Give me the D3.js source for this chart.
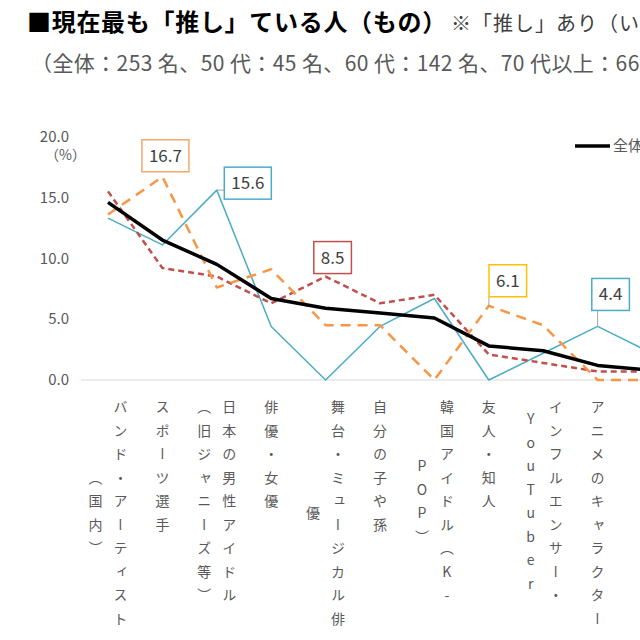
<!DOCTYPE html>
<html>
<head>
<meta charset="utf-8">
<script src="https://cdn.jsdelivr.net/npm/d3@7"></script>
<style>
  body { margin: 0; background: #fff; }
  svg { display: block; font-family: "Noto Sans CJK JP", "Noto Sans", sans-serif; }
</style>
</head>
<body>
<div id="chart"></div>
<script>
// Data
var categories = [
  "バンド・アーティスト（国内）", "スポーツ選手", "日本の男性アイドル（旧ジャニーズ等）",
  "俳優・女優", "舞台・ミュージカル俳優", "自分の子や孫", "韓国アイドル（K-POP）",
  "友人・知人", "インフルエンサー・YouTuber", "アニメのキャラクター", "その他"
];
// how each category label wraps into vertical columns (right to left)
var labelColumns = [
  ["バンド・アーティスト", "（国内）"],
  ["スポーツ選手"],
  ["日本の男性アイドル", "（旧ジャニーズ等）"],
  ["俳優・女優"],
  ["舞台・ミュージカル俳", "優"],
  ["自分の子や孫"],
  ["韓国アイドル（K-", "POP）"],
  ["友人・知人"],
  ["インフルエンサー・", "YouTuber"],
  ["アニメのキャラクター"],
  ["その他"]
];
var seriesNames = ["全体", "50代", "60代", "70代以上"];
var valuesAll = [14.6, 11.5, 9.5, 6.7, 5.9, 5.5, 5.1, 2.8, 2.4, 1.2, 0.8];
var values50 = [13.3, 11.1, 15.6, 4.4, 0.0, 4.4, 6.7, 0.0, 2.2, 4.4, 2.2];
var values60 = [15.5, 9.2, 8.5, 6.3, 8.5, 6.3, 7.0, 2.1, 1.4, 0.7, 0.7];
var values70 = [13.6, 16.7, 7.6, 9.1, 4.5, 4.5, 0.0, 6.1, 4.5, 0.0, 0.0];
var yTicks = [0, 5, 10, 15, 20];
// highlighted values: series index, category index
var callouts = [
  { s: 3, c: 1 },
  { s: 1, c: 2 },
  { s: 2, c: 4 },
  { s: 3, c: 7 },
  { s: 1, c: 9 }
];

var seriesValues = [valuesAll, values50, values60, values70];

var svgWidth = 640;
var svgHeight = 640;

var svg = d3.select("#chart")
  .append("svg")
  .attr("width", svgWidth)
  .attr("height", svgHeight);

// Titles
var title = svg.append("text")
  .attr("x", 27)
  .attr("y", 31)
  .attr("fill", "#000");
title.append("tspan")
  .attr("font-size", 24)
  .attr("font-weight", "bold")
  .style("letter-spacing", "0.7px")
  .text("■現在最も「推し」ている人（もの）");
title.append("tspan")
  .attr("dx", 4)
  .attr("font-size", 20)
  .attr("fill", "#404040")
  .style("letter-spacing", "1px")
  .text("※「推し」あり（いる）");

svg.append("text")
  .attr("x", 31)
  .attr("y", 71)
  .attr("font-size", 21)
  .attr("fill", "#595959")
  .style("letter-spacing", "0.4px")
  .text("（全体：253 名、50 代：45 名、60 代：142 名、70 代以上：66 名）");

// Scales
var step = 54.4;
var x0 = 108;
var xScale = d3.scalePoint()
  .domain(categories)
  .range([x0, x0 + step * (categories.length - 1)]);

var yScale = d3.scaleLinear()
  .domain([0, 20])
  .range([380, 136.6]);

// Y axis labels
var yAxis = d3.axisLeft(yScale)
  .tickValues(yTicks)
  .tickFormat(d3.format(".1f"))
  .tickSize(0)
  .tickPadding(0);

var yAxisG = svg.append("g")
  .attr("transform", "translate(69,0)")
  .call(yAxis);
yAxisG.select(".domain").remove();
yAxisG.selectAll("text")
  .attr("font-size", 15)
  .attr("font-family", "'Noto Sans CJK JP', sans-serif")
  .attr("fill", "#595959");

svg.append("text")
  .attr("x", 45)
  .attr("y", 160)
  .attr("font-size", 14)
  .attr("fill", "#595959")
  .text("（%）");

// baseline
svg.append("line")
  .attr("x1", x0 - step / 2)
  .attr("x2", svgWidth + 20)
  .attr("y1", yScale(0))
  .attr("y2", yScale(0))
  .attr("stroke", "#d9d9d9")
  .attr("stroke-width", 1.2);

// X labels, vertical text
var charStep = 23.5;
var labelTop = 400;
labelColumns.forEach(function(cols, i) {
  var cx = xScale(categories[i]);
  var maxLen = d3.max(cols, c => Array.from(c).length);
  cols.forEach(function(col, j) {
    var len = Array.from(col).length;
    var colX = cols.length === 1 ? cx : cx + 12.5 - j * 25;
    svg.append("text")
      .attr("x", colX)
      .attr("y", labelTop + (maxLen - len) * charStep / 2)
      .attr("font-size", 14)
      .attr("fill", "#595959")
      .style("writing-mode", "vertical-rl")
      .style("text-orientation", "upright")
      .style("letter-spacing", (charStep - 14) + "px")
      .text(col);
  });
});

// Lines
var styles = [
  { color: "#000000", width: 3.5, dash: null },
  { color: "#4bacc6", width: 1.5, dash: null },
  { color: "#c0504d", width: 2.5, dash: "6,4" },
  { color: "#f79646", width: 2.5, dash: "10,7" }
];

var line = d3.line()
  .x((d, i) => xScale(categories[i]))
  .y(d => yScale(d));

// draw in order so that 全体 sits on top
[1, 2, 3, 0].forEach(function(s) {
  svg.append("path")
    .datum(seriesValues[s])
    .attr("d", line)
    .attr("fill", "none")
    .attr("stroke", styles[s].color)
    .attr("stroke-width", styles[s].width)
    .attr("stroke-dasharray", styles[s].dash)
    .attr("stroke-linejoin", "round");
});

// Callout labels
var offsets = [
  { dx: 3, dy: -21 },
  { dx: 31, dy: -7 },
  { dx: 7, dy: -19 },
  { dx: 19, dy: -25 },
  { dx: 13, dy: -32 }
];
var boxColors = ["#f4a86b", "#4bacc6", "#c0504d", "#ffc000", "#4bacc6"];

callouts.forEach(function(c, k) {
  var v = seriesValues[c.s][c.c];
  var px = xScale(categories[c.c]);
  var py = yScale(v);
  var bx = px + offsets[k].dx;
  var by = py + offsets[k].dy;
  var g = svg.append("g");
  var rect = g.append("rect");
  var t = g.append("text")
    .attr("x", bx)
    .attr("y", by + 6)
    .attr("text-anchor", "middle")
    .attr("font-size", 17)
    .attr("fill", "#404040")
    .text(d3.format(".1f")(v));
  var w = t.node().getComputedTextLength() + 14;
  var h = 32;
  rect.attr("x", bx - w / 2)
    .attr("y", by - h / 2)
    .attr("width", w)
    .attr("height", h)
    .attr("fill", "#fff")
    .attr("stroke", boxColors[k])
    .attr("stroke-width", 1.5);
  // leader line when the box is clear of the point
  var ex = Math.max(bx - w / 2, Math.min(px, bx + w / 2));
  var ey = Math.max(by - h / 2, Math.min(py, by + h / 2));
  if (Math.hypot(ex - px, ey - py) > 6) {
    g.insert("line", "rect")
      .attr("x1", px).attr("y1", py)
      .attr("x2", ex).attr("y2", ey)
      .attr("stroke", "#a6a6a6")
      .attr("stroke-width", 1);
  }
});

// Legend
var legendX = 575;
seriesNames.forEach(function(name, s) {
  var lx = legendX + s * 85;
  svg.append("line")
    .attr("x1", lx).attr("x2", lx + 35)
    .attr("y1", 146).attr("y2", 146)
    .attr("stroke", styles[s].color)
    .attr("stroke-width", styles[s].width)
    .attr("stroke-dasharray", styles[s].dash);
  svg.append("text")
    .attr("x", lx + 38)
    .attr("y", 151)
    .attr("font-size", 15)
    .attr("fill", "#595959")
    .text(name);
});
</script>
</body>
</html>
